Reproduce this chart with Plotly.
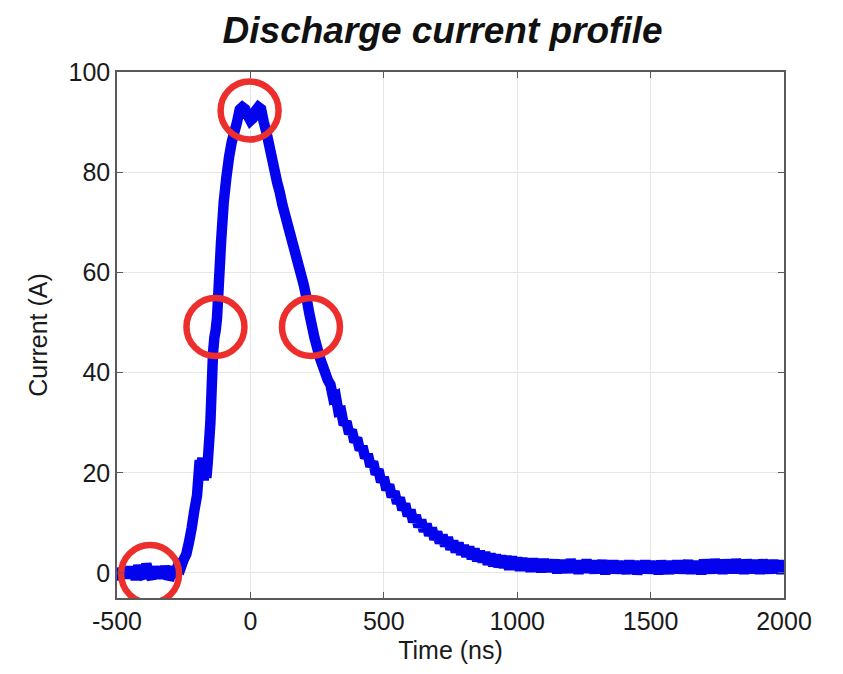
import plotly.graph_objects as go

# Discharge current trace: pre-trigger baseline, rise, peak and early decay (time in ns, current in A)
head_time_ns = [
    -500, -490, -480, -470, -460, -450, -440, -430, -420, -410, -400,
    -390, -380, -370, -360, -350, -340, -330, -320, -310, -300, -290,
    -280, -270, -260, -250, -240, -230, -220, -210, -200, -195, -190,
    -185, -180, -175, -170, -165, -160, -155, -150, -145, -140, -135,
    -130, -125, -120, -110, -100, -90, -80, -70, -60, -50, -40, -30,
    -20, -10, 0, 10, 20, 30, 40, 50, 60, 70, 80, 90, 100, 110, 120,
    130, 140, 150, 160, 170, 180, 190, 200, 210, 220, 230, 240, 250,
    260, 270, 280, 290,
]
head_current_a = [
    0.2, -1.2, 0.9, -1.0, 1.2, -0.9, 0.8, -1.3, 1.5, -0.4, -0.9,
    1.8, -0.2, -1.1, 1.2, -0.7, 0.9, -1.0, 1.3, -0.5, -0.6, 1.0,
    0.4, 1.6, 1.2, 2.7, 3.8, 6.2, 9.0, 12.5, 15.5, 19.0, 22.5,
    20.0, 23.0, 18.5, 22.0, 19.0, 22.0, 26.0, 30.0, 37.0, 44.0, 47.0,
    48.5, 51.0, 56.0, 66.0, 74.0, 79.0, 83.0, 86.0, 88.0, 90.0, 92.5, 93.0,
    92.6, 91.3, 90.3, 90.8, 92.3, 93.0, 92.6, 90.0, 88.0, 85.5, 83.0, 80.5, 78.0, 76.0, 73.5,
    71.5, 69.5, 67.5, 65.5, 63.5, 61.5, 59.5, 57.5, 55.0, 52.0, 49.5, 47.0, 45.0,
    43.0, 41.5, 40.0, 38.5,
]

# Decay and tail, sampled every 10 ns from 300 ns to 2000 ns
tail_time_ns = list(range(300, 2001, 10))
tail_current_a = [
    37.6, 35.0, 35.3, 32.2, 32.3, 29.6, 30.2, 27.8, 28.5, 26.2,
    26.9, 24.6, 25.3, 23.0, 23.7, 21.3, 22.2, 19.7, 20.6, 18.2,
    19.1, 16.6, 17.6, 15.2, 16.2, 13.9, 15.0, 12.6, 13.8, 11.4,
    12.6, 10.2, 11.5, 9.2, 10.6, 8.3, 9.8, 7.5, 9.0, 6.7,
    8.2, 6.0, 7.6, 5.4, 7.1, 4.7, 6.4, 4.2, 6.0, 3.7,
    5.5, 3.3, 5.2, 2.8, 4.8, 2.4, 4.3, 2.2, 4.1, 1.7,
    3.8, 1.4, 3.6, 1.2, 3.4, 1.1, 3.3, 0.7, 3.2, 0.8,
    3.0, 0.5, 2.9, 0.6, 2.7, 0.3, 2.8, 0.4, 2.6, 0.2,
    2.7, 0.3, 2.4, 0.5, 2.6, 0.0, 2.5, 0.3, 2.3, 0.1,
    2.7, 0.2, 2.3, -0.1, 2.4, 0.4, 2.6, 0.1, 2.2, 0.0,
    2.4, 0.2, 2.5, -0.2, 2.2, 0.3, 2.4, 0.0, 2.3, 0.1,
    2.2, -0.1, 2.4, 0.2, 2.3, -0.2, 2.1, 0.1, 2.4, 0.0,
    2.3, 0.1, 2.2, -0.2, 2.4, 0.2, 2.1, -0.1, 2.3, 0.1,
    2.4, 0.0, 2.2, 0.2, 2.5, -0.1, 2.3, 0.1, 2.2, -0.2,
    2.6, 0.1, 2.3, 0.0, 2.7, 0.2, 2.4, -0.1, 2.6, 0.1,
    2.5, 0.0, 2.7, 0.2, 2.3, -0.1, 2.6, 0.1, 2.5, 0.0,
    2.4, -0.1, 2.6, 0.1, 2.3, 0.0, 2.5, 0.2, 2.4, -0.1,
    2.2,
]

time_ns = head_time_ns + tail_time_ns
current_a = head_current_a + tail_current_a

# Highlighted points on the pulse: onset, rising half-max, peak, falling half-max
marker_t = [-376, -131, -3, 227]
marker_i = [-0.2, 49.1, 92.3, 49.1]

x_ticks = [-500, 0, 500, 1000, 1500, 2000]
y_ticks = [0, 20, 40, 60, 80, 100]

font_family = "Liberation Sans, Arial, sans-serif"
axis_color = "#5a5a5a"
grid_color = "#e6e6e6"

fig = go.Figure()
fig.add_trace(go.Scatter(
    x=time_ns, y=current_a, mode="lines",
    line=dict(color="#0303ee", width=10.5, simplify=False),
    showlegend=False, hoverinfo="skip",
))
fig.add_trace(go.Scatter(
    x=marker_t, y=marker_i, mode="markers",
    marker=dict(symbol="circle-open", size=58,
                line=dict(color="#ec2f2c", width=6.5),
                color="#ec2f2c"),
    showlegend=False, hoverinfo="skip",
))

fig.update_layout(
    width=843, height=674,
    margin=dict(l=117, r=59, t=72, b=76),
    paper_bgcolor="white", plot_bgcolor="white",
    font=dict(family=font_family, color="#222222"),
    title=dict(
        text="<b><i>Discharge current profile</i></b>",
        font=dict(family=font_family, size=37, color="#111111"),
        x=0.525, xanchor="center", y=0.955, yanchor="middle",
    ),
)

axis_common = dict(
    showline=True, linecolor=axis_color, linewidth=1.5, mirror="ticks",
    ticks="inside", ticklen=6, tickwidth=1.2, tickcolor=axis_color,
    showgrid=True, gridcolor=grid_color, gridwidth=1,
    zeroline=False,
    tickfont=dict(family=font_family, size=25, color="#1a1a1a"),
)

fig.update_xaxes(
    range=[-500, 2000], tickvals=x_ticks, ticktext=[str(v) for v in x_ticks],
    title=dict(text="Time (ns)", font=dict(family=font_family, size=25, color="#1a1a1a"),
               standoff=8),
    **axis_common,
)
fig.update_yaxes(
    range=[-5, 100], tickvals=y_ticks, ticktext=[str(v) for v in y_ticks],
    title=dict(text="Current (A)", font=dict(family=font_family, size=25, color="#1a1a1a"),
               standoff=14),
    **axis_common,
)

fig.write_html("out.html")
